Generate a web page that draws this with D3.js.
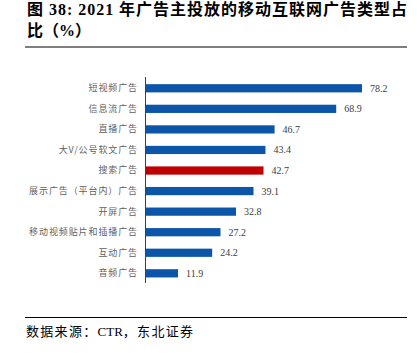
<!DOCTYPE html>
<html>
<head>
<meta charset="utf-8">
<title>广告类型占比</title>
<style>
    body { margin: 0; background: #fff; }
    svg { display: block; }
    .title { font-family: 'Liberation Serif', 'Noto Sans CJK SC', serif; font-weight: 700; font-size: 16px; fill: #000; }
    .cat { font-family: 'Noto Sans CJK SC', sans-serif; font-size: 9px; letter-spacing: 0.9px; fill: #5f5f5f; }
    .val { font-family: 'Liberation Serif', serif; font-size: 10px; fill: #404040; }
    .src { font-family: 'Liberation Serif', 'Noto Sans CJK SC', serif; font-size: 13px; fill: #000; }
</style>
</head>
<body>
<figure style="margin:0"></figure>
<script src="https://d3js.org/d3.v7.min.js"></script>
<script>
    // data
    const categories = ['短视频广告', '信息流广告', '直播广告', '大V/公号软文广告', '搜索广告',
        '展示广告（平台内）广告', '开屏广告', '移动视频贴片和插播广告', '互动广告', '音频广告']
    const values = [78.2, 68.9, 46.7, 43.4, 42.7, 39.1, 32.8, 27.2, 24.2, 11.9]
    const highlight = '搜索广告'

    const width = 417, height = 353

    const svg = d3.select('figure').append('svg')
        .attr('width', width)
        .attr('height', height)

    // title
    svg.append('text').attr('class', 'title')
        .attr('x', 27).attr('y', 15)
        .attr('textLength', 380).attr('lengthAdjust', 'spacing')
        .text('图 38: 2021 年广告主投放的移动互联网广告类型占')
    svg.append('text').attr('class', 'title')
        .attr('x', 27).attr('y', 36)
        .text('比（%）')
    svg.append('line')
        .attr('x1', 25).attr('x2', 407).attr('y1', 47).attr('y2', 47)
        .attr('stroke', '#7f7f7f').attr('stroke-width', 2)

    // scales
    const x = d3.scaleLinear().domain([0, 90]).range([145, 145 + 90 * 2.775])
    const y = d3.scaleBand().domain(categories).range([78, 283.6])
        .paddingInner(0.6).paddingOuter(0.3)

    // bars
    svg.selectAll('.bars')
        .data(categories)
        .enter()
        .append('rect')
        .attr('class', 'bars')
        .attr('x', x(0))
        .attr('y', d => y(d))
        .attr('width', (d, i) => x(values[i]) - x(0))
        .attr('height', y.bandwidth())
        .attr('fill', d => d === highlight ? '#c00000' : '#0b56a8')

    // value labels
    svg.selectAll('.val')
        .data(categories)
        .enter()
        .append('text')
        .attr('class', 'val')
        .attr('x', (d, i) => x(values[i]) + 8)
        .attr('y', d => y(d) + y.bandwidth() / 2)
        .attr('dy', '0.35em')
        .text((d, i) => values[i].toFixed(1))

    // y axis
    const yAxis = svg.append('g')
        .attr('transform', `translate(${x(0)},0)`)
        .call(d3.axisLeft(y).tickSize(0).tickPadding(7))
    yAxis.select('.domain').attr('stroke', '#404040').attr('d', 'M0.5,77V283')
    yAxis.selectAll('.tick text').attr('class', 'cat').attr('font-family', null).attr('font-size', null).attr('fill', null)

    // source
    svg.append('line')
        .attr('x1', 25).attr('x2', 407).attr('y1', 317.5).attr('y2', 317.5)
        .attr('stroke', '#000').attr('stroke-width', 1)
    const src = svg.append('text').attr('class', 'src')
        .attr('x', 26).attr('y', 336)
    src.append('tspan').style('letter-spacing', '1.3px').text('数据来源：')
    src.append('tspan').text('CTR')
    src.append('tspan').style('letter-spacing', '1.3px').text('，东北证券')
</script>
</body>
</html>
